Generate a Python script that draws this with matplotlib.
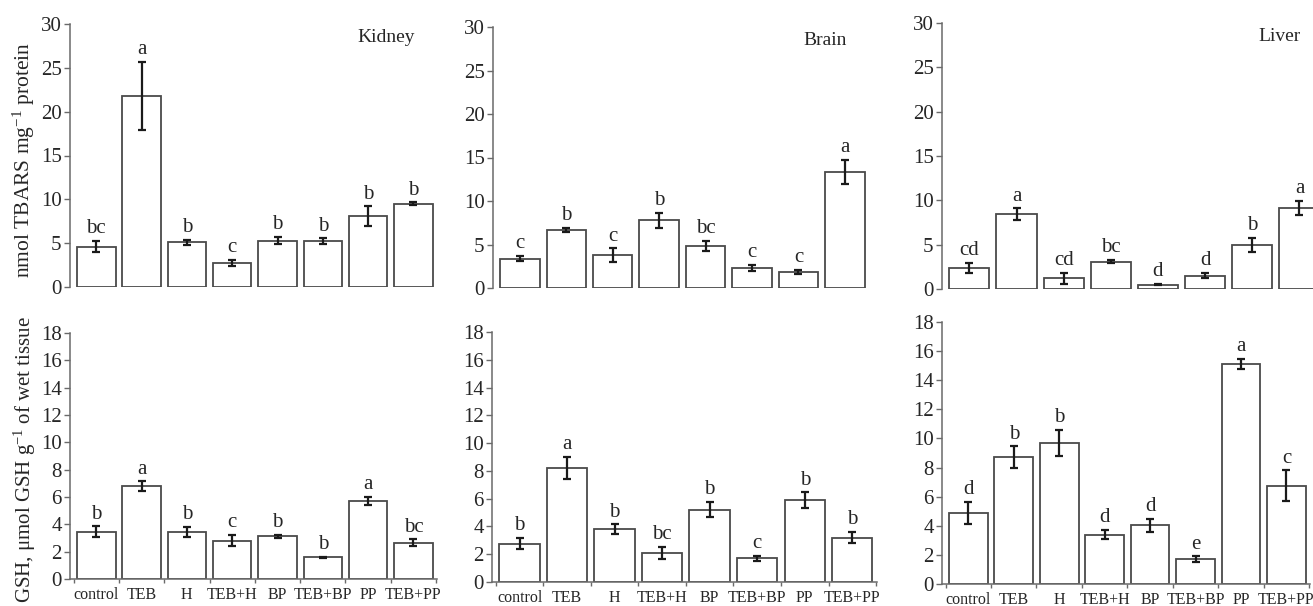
import matplotlib
matplotlib.use("Agg")
import matplotlib.pyplot as plt
import numpy as np

plt.rcParams['font.family'] = ['Liberation Serif', 'DejaVu Serif']
plt.rcParams['mathtext.fontset'] = 'custom'
plt.rcParams['mathtext.rm'] = 'Liberation Serif'
plt.rcParams['mathtext.default'] = 'regular'

categories = ["control", "TEB", "H", "TEB+H", "BP", "TEB+BP", "PP", "TEB+PP"]

# TBARS (nmol TBARS mg-1 protein)
kidney_tbars = [4.6, 21.8, 5.1, 2.7, 5.3, 5.2, 8.1, 9.5]
kidney_tbars_err = [0.65, 3.9, 0.3, 0.35, 0.45, 0.35, 1.1, 0.15]
kidney_tbars_letters = ["bc", "a", "b", "c", "b", "b", "b", "b"]

brain_tbars = [3.35, 6.65, 3.75, 7.8, 4.85, 2.35, 1.85, 13.3]
brain_tbars_err = [0.3, 0.25, 0.8, 0.85, 0.55, 0.35, 0.25, 1.4]
brain_tbars_letters = ["c", "b", "c", "b", "bc", "c", "c", "a"]

liver_tbars = [2.35, 8.45, 1.2, 3.1, 0.5, 1.5, 5.0, 9.1]
liver_tbars_err = [0.6, 0.65, 0.65, 0.15, 0.05, 0.3, 0.8, 0.8]
liver_tbars_letters = ["cd", "a", "cd", "bc", "d", "d", "b", "a"]

# GSH (umol GSH g-1 of wet tissue)
kidney_gsh = [3.45, 6.8, 3.45, 2.8, 3.12, 1.58, 5.72, 2.65]
kidney_gsh_err = [0.4, 0.35, 0.35, 0.4, 0.1, 0.03, 0.3, 0.25]
kidney_gsh_letters = ["b", "a", "b", "c", "b", "b", "a", "bc"]

brain_gsh = [2.75, 8.2, 3.8, 2.1, 5.2, 1.7, 5.9, 3.2]
brain_gsh_err = [0.4, 0.8, 0.35, 0.45, 0.55, 0.2, 0.55, 0.4]
brain_gsh_letters = ["b", "a", "b", "bc", "b", "c", "b", "b"]

liver_gsh = [4.9, 8.7, 9.7, 3.4, 4.05, 1.7, 15.1, 6.75]
liver_gsh_err = [0.75, 0.75, 0.9, 0.3, 0.45, 0.2, 0.35, 1.05]
liver_gsh_letters = ["d", "b", "b", "d", "d", "e", "a", "c"]

tissue_names = ["Kidney", "Brain", "Liver"]
tbars_ylabel = "nmol TBARS mg$^{-1}$ protein"
gsh_ylabel = "GSH, \u03bcmol GSH g$^{-1}$ of wet tissue"

W, H = 1313, 606
fig = plt.figure(figsize=(W / 100, H / 100), dpi=100)

def rect(x0, x1, ytop, ybot):
    return [x0 / W, 1 - ybot / H, (x1 - x0) / W, (ybot - ytop) / H]

TXT = "#262626"
SPINE = "#6a6a6a"
EDGE = "#4a4a4a"

top_rects = [rect(70, 437, 24, 287), rect(493, 869, 27, 288), rect(942, 1324, 23, 289)]
bot_rects = [rect(70, 437, 333, 579), rect(492, 877, 332, 582), rect(942, 1310, 322, 584)]

top_data = [(kidney_tbars, kidney_tbars_err, kidney_tbars_letters),
            (brain_tbars, brain_tbars_err, brain_tbars_letters),
            (liver_tbars, liver_tbars_err, liver_tbars_letters)]
bot_data = [(kidney_gsh, kidney_gsh_err, kidney_gsh_letters),
            (brain_gsh, brain_gsh_err, brain_gsh_letters),
            (liver_gsh, liver_gsh_err, liver_gsh_letters)]

x = np.arange(len(categories))

def draw(ax, vals, errs, letters, ymax, ystep, bottom_axis):
    ax.bar(x, vals, width=0.85, color="white", edgecolor=EDGE, linewidth=1.3, zorder=2)
    ax.errorbar(x, vals, yerr=errs, fmt="none", ecolor="#1a1a1a", elinewidth=1.6,
                capsize=3.2, capthick=1.6, zorder=3)
    for xi, v, e, l in zip(x, vals, errs, letters):
        ax.annotate(l, (xi, v + e), xytext=(0, 2), textcoords="offset points",
                    ha="center", va="bottom", fontsize=15, color=TXT)
    ax.set_ylim(0, ymax)
    ax.set_xlim(-0.58, 7.52)
    ax.set_yticks(np.arange(0, ymax + 0.1, ystep))
    ax.tick_params(axis="y", direction="out", length=4, width=1, color=SPINE,
                   labelsize=15, labelcolor=TXT, pad=2)
    for s in ["top", "right"]:
        ax.spines[s].set_visible(False)
    ax.spines["left"].set_color(SPINE)
    ax.spines["left"].set_linewidth(1.1)
    ax.patch.set_alpha(0)
    if bottom_axis:
        ax.spines["bottom"].set_color(SPINE)
        ax.spines["bottom"].set_linewidth(1.1)
        ax.set_xticks(x)
        ax.set_xticklabels(categories)
        ax.set_xticks(np.arange(-0.5, 8, 1.0), minor=True)
        ax.tick_params(axis="x", which="major", length=0, labelsize=11.5, labelcolor=TXT, pad=6)
        ax.tick_params(axis="x", which="minor", length=3, width=1, color=SPINE)
    else:
        ax.spines["bottom"].set_visible(False)
        ax.set_xticks([])

for i in range(3):
    ax = fig.add_axes(top_rects[i])
    v, e, l = top_data[i]
    draw(ax, v, e, l, 30, 5, False)
    ax.text(0.94, 0.95, tissue_names[i], transform=ax.transAxes, ha="right", va="center",
            fontsize=14, color=TXT)
    ax2 = fig.add_axes(bot_rects[i])
    v, e, l = bot_data[i]
    draw(ax2, v, e, l, 18, 2, True)

fig.text(24 / W, 1 - 160 / H, tbars_ylabel, rotation=90, ha="center", va="center",
         fontsize=15.5, color=TXT)
fig.text(25 / W, 1 - 460 / H, gsh_ylabel, rotation=90, ha="center", va="center",
         fontsize=15, color=TXT)

fig.savefig("out.png", dpi=100, facecolor="white")
